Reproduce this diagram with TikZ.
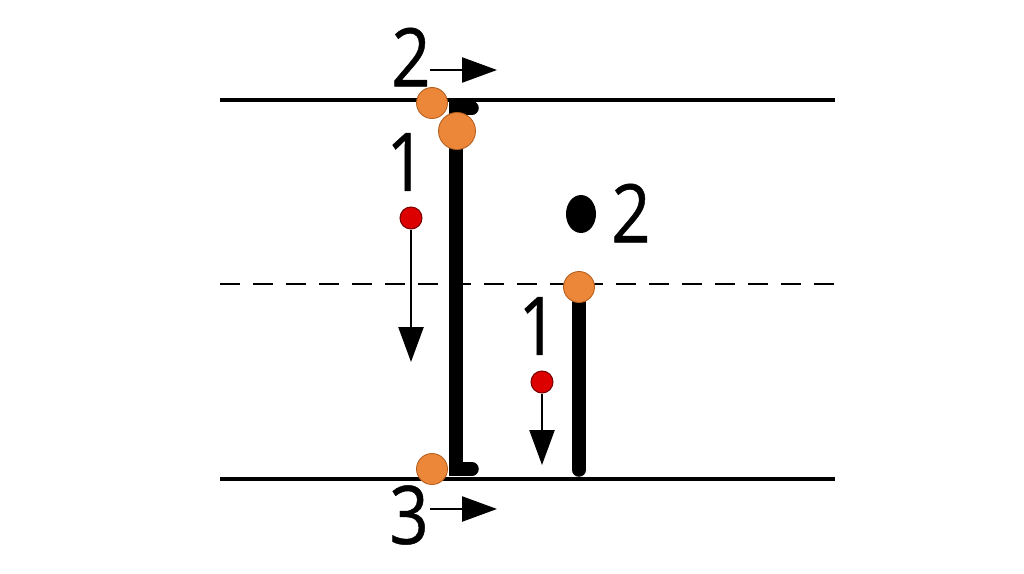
\documentclass[tikz,border=0pt]{standalone}
\usepackage{fontspec}
\usepackage{xcolor}
\usepackage{tikz}
\usetikzlibrary{arrows.meta,positioning,shapes.geometric}
\newfontfamily\digitfont[FakeStretch=0.85,FakeBold=0.6]{Open Sans}
\definecolor{ink}{HTML}{000000}
\definecolor{pin}{HTML}{EC873A}
\definecolor{pinedge}{HTML}{B45F1E}
\definecolor{bead}{HTML}{DD0000}
\definecolor{beadedge}{HTML}{7A0000}
\begin{document}
\begin{tikzpicture}[x=0.02cm,y=-0.02cm,every node/.style={font=\digitfont\fontsize{46}{50}\selectfont,inner sep=0pt},rail/.style={draw=ink,line width=2.4pt},pinball/.style={circle,fill=pin,draw=pinedge,line width=0.5pt,minimum size=#1},redball/.style={circle,fill=bead,draw=beadedge,line width=0.6pt,minimum size=0.44cm},arr/.style={-{Triangle[length=0.7cm,width=0.5cm]},line width=1.4pt,draw=ink},rod/.style={draw=ink,line width=#1,line cap=round}]
\useasboundingbox (0,0) rectangle (1024,574);
\draw[rail] (220,100) -- (835,100);
\draw[rail] (220,479) -- (835,479);
\draw[draw=ink,line width=1.3pt,dash pattern=on 0.4cm off 0.26cm] (220,284) -- (835,284);
% long rod and short rod
\draw[rod=0.27cm] (472,108) -- (456,108) -- (456,469) -- (472,469);
\draw[rod=0.27cm] (579,290) -- (579,470);
% contact points
\node[pinball=0.62cm] (pa) at (432,103) {};
\node[pinball=0.74cm] (pb) at (457,131) {};
\node[pinball=0.62cm] (pc) at (432,469) {};
\node[pinball=0.62cm] (pd) at (579,287) {};
\node[ellipse,fill=ink,minimum width=0.6cm,minimum height=0.76cm] (dot) at (581,214) {};
% falling beads
\node[redball] (ra) at (411,218) {};
\node[redball] (rb) at (542,382) {};
\coordinate (raend) at (411,362);
\coordinate (rbend) at (542,465);
\draw[arr] (ra) -- (raend);\draw[arr] (rb) -- (rbend);
% labels
\node (ltwo) at (411,57) {2};
\node (lthree) at (409,515) {3};
\node (lonea) at (406,162) {1};
\node (loneb) at (538,326) {1};
\node (ltwob) at (631,213) {2};
\coordinate (ta) at (430,70);\coordinate (tb) at (497,70);
\coordinate (ba) at (430,509);\coordinate (bb) at (497,509);
\draw[arr] (ta) -- (tb);\draw[arr] (ba) -- (bb);
\end{tikzpicture}
\end{document}
